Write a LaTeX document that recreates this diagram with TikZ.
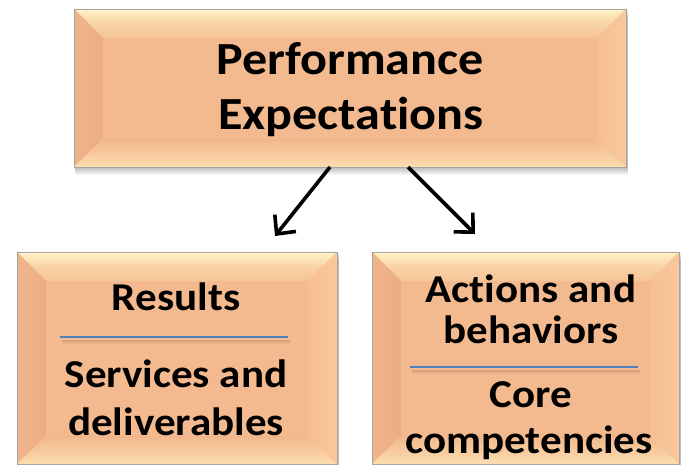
\documentclass[tikz,border=0pt]{standalone}
\usepackage{fontspec}
\setmainfont{Carlito}[Ligatures=NoCommon, FakeStretch=1.09]
\usetikzlibrary{arrows.meta,calc}

\definecolor{face}{HTML}{F4BA8F}
\definecolor{topedge}{HTML}{FFF4C8}
\definecolor{topin}{HTML}{F6C497}
\definecolor{leftout}{HTML}{F0B48B}
\definecolor{leftin}{HTML}{ECAD85}
\definecolor{rightout}{HTML}{FAC89C}
\definecolor{rightin}{HTML}{F6BF93}
\definecolor{botedge}{HTML}{FCDDB0}
\definecolor{botin}{HTML}{F2B78C}
\definecolor{rim}{HTML}{A8A4A0}
\definecolor{rule}{HTML}{4F81BD}

\tikzset{
  boxnode/.style={inner sep=0pt, outer sep=0pt, anchor=north west},
  bigtext/.style={anchor=base, inner sep=0pt, font=\fontsize{46}{55}\selectfont\bfseries},
  smalltext/.style={anchor=base, inner sep=0pt, font=\fontsize{39.5}{47}\selectfont\bfseries},
  arrowline/.style={line width=3.6pt, -{Straight Barb[length=14pt,width=27pt,line width=3.6pt]}},
  divider/.style={rule, line width=2pt},
  dividershadow/.style={black, opacity=0.08, line width=2pt},
}

% bevelled box: name, x1, y1, x2, y2 (y grows downward)
\newcommand\bevbox[5]{%
  \foreach \k in {1,...,8}{
    \fill[black, opacity=0.035] (#2+1,#3+\k) rectangle (#4+1.5,#5+\k);
  }
  \node[boxnode, minimum width=#4-#2, minimum height=#5-#3, fill=face] (#1) at (#2,#3) {};
  \shade[top color=topedge, bottom color=topin, middle color=topin!70!topedge]
    (#2,#3) -- (#4,#3) -- (#4-29,#3+29) -- (#2+29,#3+29) -- cycle;
  \shade[left color=leftout, right color=leftin]
    (#2,#3) -- (#2+29,#3+29) -- (#2+29,#5-28) -- (#2,#5) -- cycle;
  \shade[left color=rightin, right color=rightout]
    (#4,#3) -- (#4-29,#3+29) -- (#4-29,#5-28) -- (#4,#5) -- cycle;
  \shade[top color=botin, bottom color=botedge]
    (#2,#5) -- (#2+29,#5-28) -- (#4-29,#5-28) -- (#4,#5) -- cycle;
  \draw[rim, line width=0.8pt] (#1.north west) rectangle (#1.south east);
}

\begin{document}
\begin{tikzpicture}[x=1pt, y=-1pt]
\useasboundingbox (0,0) rectangle (682,465);
\clip (0,0) rectangle (682,465);
\fill[white] (0,0) rectangle (682,465);

% boxes
\bevbox{perf}{74}{9}{626}{167}
\bevbox{results}{17}{252}{337}{464}
\bevbox{actions}{372}{252}{679}{464}

% top box text
\node[bigtext] (perf1) at (350,75) {Performance};
\node[bigtext] (perf2) at (351,130) {Expectations};

% left box text
\node[smalltext] (res1) at (176,310) {Results};
\node[smalltext] (res2) at (176,387) {Services and};
\node[smalltext] (res3) at (176,435) {deliverables};
\coordinate (lrulea) at (60,337);
\coordinate (lruleb) at (288,337);
\draw[dividershadow] ($(lrulea)+(2,4)$) -- ($(lruleb)+(2,4)$);
\draw[dividershadow, line width=4pt, opacity=0.05] ($(lrulea)+(2,5)$) -- ($(lruleb)+(2,5)$);
\draw[divider] (lrulea) -- (lruleb);

% right box text
\node[smalltext] (act1) at (531,302) {Actions and};
\node[smalltext] (act2) at (531,343) {behaviors};
\node[smalltext] (act3) at (531,407) {Core};
\node[smalltext] (act4) at (529,453) {competencies};
\coordinate (rrulea) at (410,367);
\coordinate (rruleb) at (638,367);
\draw[dividershadow] ($(rrulea)+(2,4)$) -- ($(rruleb)+(2,4)$);
\draw[dividershadow, line width=4pt, opacity=0.05] ($(rrulea)+(2,5)$) -- ($(rruleb)+(2,5)$);
\draw[divider] (rrulea) -- (rruleb);

% connectors
\coordinate (ltip) at (275,236);
\coordinate (rtip) at (475,234);
\draw[arrowline] ([xshift=-20pt]perf.south) -- (ltip);
\draw[arrowline] ([xshift=58pt]perf.south) -- (rtip);
\end{tikzpicture}
\end{document}
